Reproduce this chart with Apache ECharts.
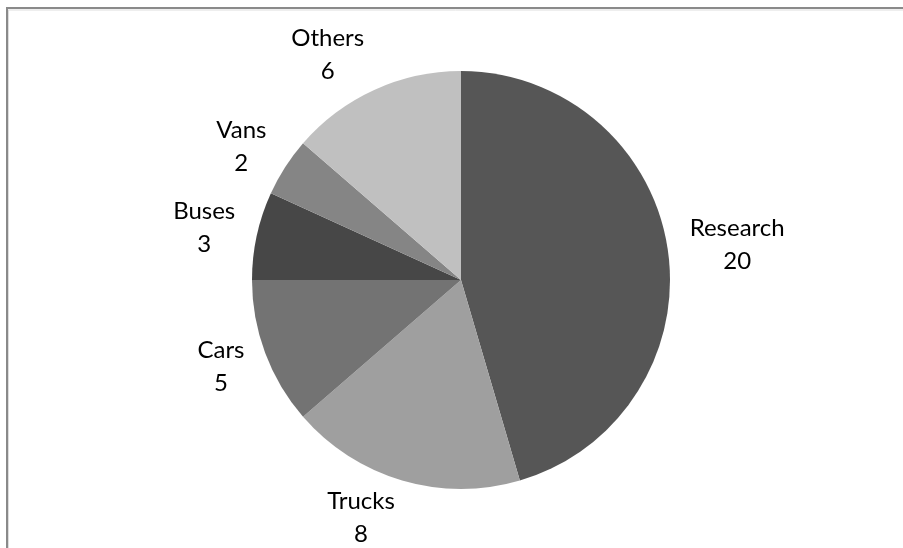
<!DOCTYPE html>
<html><head><meta charset="utf-8">
<script src="https://cdn.jsdelivr.net/npm/echarts@6/dist/echarts.min.js"></script>
<style>html,body{margin:0;padding:0;background:#fff}#c{width:903px;height:548px}</style>
</head><body><div id="c"></div>
<script>
const categories = ['Research', 'Trucks', 'Cars', 'Buses', 'Vans', 'Others'];
const values = [20, 8, 5, 3, 2, 6];
const colors = ['#565656', '#9f9f9f', '#737373', '#474747', '#858585', '#c0c0c0'];

const CX = 461, CY = 280, R = 209, GAP = 20.5, PAD = 1.5, KY = 0.54;
const total = values.reduce((a, b) => a + b, 0);
const midAngles = [];
let acc = 0;
values.forEach(v => { midAngles.push((acc + v / 2) / total * 2 * Math.PI); acc += v; });

const chart = echarts.init(document.getElementById('c'));
chart.setOption({
  animation: false,
  backgroundColor: '#fff',
  graphic: [
    {type: 'line', shape: {x1: 6, y1: 8, x2: 903, y2: 8}, style: {stroke: '#8a8a8a', lineWidth: 2}},
    {type: 'line', shape: {x1: 7, y1: 8, x2: 7, y2: 548}, style: {stroke: '#8a8a8a', lineWidth: 2}},
    {type: 'line', shape: {x1: 8, y1: 10, x2: 903, y2: 10}, style: {stroke: '#dddddd', lineWidth: 1}},
    {type: 'line', shape: {x1: 8.5, y1: 10, x2: 8.5, y2: 548}, style: {stroke: '#dddddd', lineWidth: 1}}
  ],
  series: [{
    type: 'pie',
    center: [CX, CY],
    radius: R,
    startAngle: 90,
    clockwise: true,
    avoidLabelOverlap: false,
    data: categories.map((n, i) => ({name: n, value: values[i], itemStyle: {color: colors[i]}})),
    label: {
      show: true,
      position: 'outside',
      formatter: '{b}\n{c}',
      fontFamily: 'Lato, "Open Sans", sans-serif',
      fontSize: 24,
      lineHeight: 33,
      color: '#000'
    },
    labelLine: {show: false, length: 22, length2: 4},
    labelLayout: function (p) {
      const a = midAngles[p.dataIndex];
      const ux = Math.sin(a), uy = -Math.cos(a);
      const hw = p.labelRect.width / 2, hh = p.labelRect.height / 2;
      const x = CX + ux * (R + GAP) + Math.sign(ux) * (PAD + hw);
      const y = CY + uy * (R + GAP + KY * hh);
      return {x: x, y: y, align: 'center', verticalAlign: 'middle'};
    },
    emphasis: {disabled: true}
  }]
});
</script></body></html>
